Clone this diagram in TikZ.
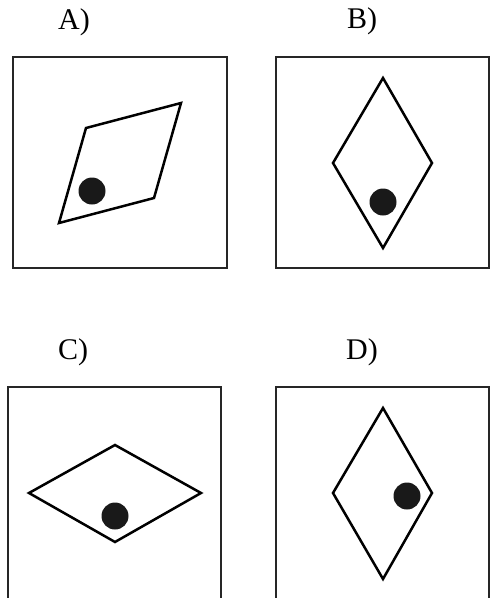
\documentclass[tikz,border=0pt]{standalone}
\usepackage{fontspec}
\setmainfont{Liberation Serif}
\begin{document}
\begin{tikzpicture}[x=1pt,y=-1pt,
  frame/.style={draw=black!85,line width=2.8pt},
  rhomb/.style={draw=black,line width=2.5pt,line join=miter},
  dot/.style={fill=black!90},
  lab/.style={font=\fontsize{30}{33}\selectfont,inner sep=0pt}]
\useasboundingbox (0,0) rectangle (494,598);
% labels
\node[lab] (la) at (74,22) {A)};
\node[lab] (lb) at (362,21) {B)};
\node[lab] (lc) at (73,352) {C)};
\node[lab] (ld) at (362,352) {D)};
% A
\draw[frame] (13,57) rectangle (227,268);
\draw[rhomb] (86,128) -- (181,103) -- (154,198) -- (59,223) -- cycle;
\fill[dot] (92,191) circle (13.5);
% B
\draw[frame] (276,57) rectangle (489,268);
\draw[rhomb] (383,78) -- (432,163) -- (383,248) -- (333,163) -- cycle;
\fill[dot] (383,202) circle (13.5);
% C
\draw[frame] (8,387) rectangle (221,599);
\draw[rhomb] (115,445) -- (201,493) -- (115,542) -- (29,493) -- cycle;
\fill[dot] (115,516) circle (13.5);
% D
\draw[frame] (276,387) rectangle (489,599);
\draw[rhomb] (383,408) -- (432,493) -- (383,579) -- (333,493) -- cycle;
\fill[dot] (407,496) circle (13.5);
\end{tikzpicture}
\end{document}
